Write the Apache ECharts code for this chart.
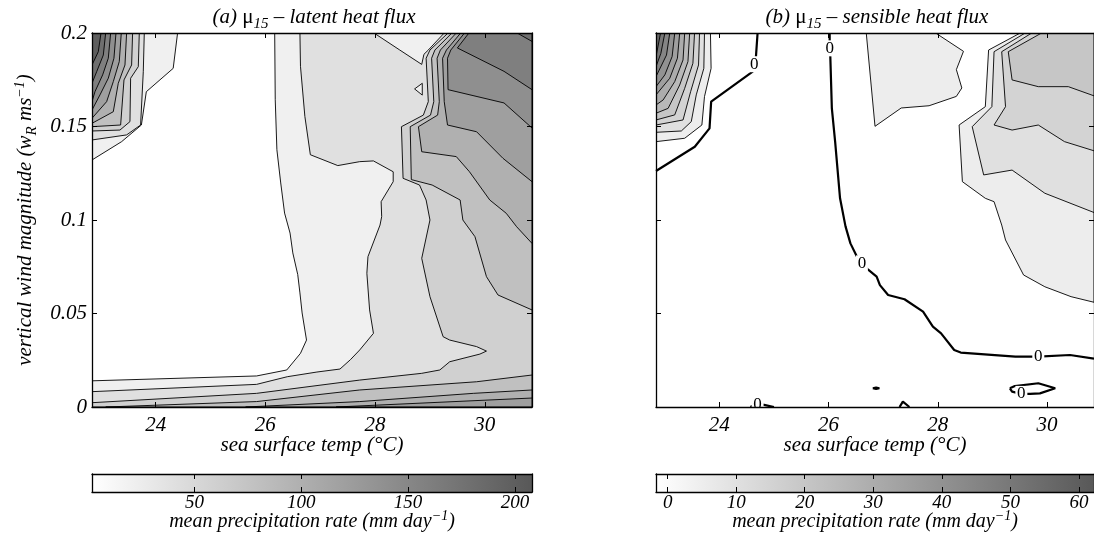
<!DOCTYPE html>
<html>
<head>
<meta charset="utf-8">
<script src="https://cdn.jsdelivr.net/npm/echarts@6/dist/echarts.min.js"></script>
<style>html,body{margin:0;padding:0;background:#fff}#main{width:1094px;height:554px}</style>
</head>
<body>
<div id="main"></div>
<script>
// axis ranges and ticks
const sstRange = [22.84, 30.86];
const windRange = [0, 0.2];
const sstTicks = [24, 26, 28, 30];
const latentBar = [2, 208];
const latentBarTicks = [50, 100, 150, 200];
const sensibleBar = [-1.7, 62.2];
const sensibleBarTicks = [0, 10, 20, 30, 40, 50, 60];

// (a) latent heat flux: contour regions as [sst, w] vertices
const aFull = [[22.84,0],[30.86,0],[30.86,0.2],[22.84,0.2]];
const aBelow20 = [[22.84,0.0140],[25.84,0.0166],[26.39,0.0198],[26.64,0.0287],[26.75,0.0358],[26.72,0.0412],[26.67,0.0503],[26.63,0.0610],[26.59,0.0708],[26.50,0.0824],[26.45,0.0930],[26.35,0.1037],[26.28,0.1198],[26.21,0.1376],[26.18,0.1643],[26.17,0.2],[24.40,0.2],[24.32,0.1811],[23.83,0.1686],[23.74,0.1508],[23.38,0.1419],[22.84,0.1321]];
const aAbove40 = [[22.84,0.0082],[25.84,0.0121],[26.40,0.0162],[26.94,0.0187],[27.36,0.0203],[27.55,0.0253],[27.72,0.0305],[27.97,0.0394],[27.90,0.0519],[27.85,0.0715],[27.87,0.0804],[28.09,0.0973],[28.12,0.1018],[28.11,0.1098],[28.33,0.1205],[28.33,0.1258],[27.97,0.1316],[27.72,0.1312],[27.32,0.1291],[26.82,0.1349],[26.72,0.1554],[26.64,0.1822],[26.63,0.2],[30.86,0.2],[30.86,0],[22.84,0]];
const aTongue = [[27.98,0.2],[28.45,0.1909],[28.85,0.1832],[28.89,0.1886],[28.97,0.1909],[29.26,0.2]];
const aPocket = [[28.72,0.1701],[28.86,0.1731],[28.86,0.1668]];
const aAbove60 = [[22.84,0.0023],[25.84,0.0073],[27.72,0.0144],[28.85,0.0180],[29.18,0.0198],[29.36,0.0242],[29.91,0.0283],[30.03,0.0299],[29.85,0.0323],[29.36,0.0358],[29.24,0.0376],[29.00,0.0590],[28.85,0.0795],[29.00,0.1000],[28.93,0.1107],[28.81,0.1187],[28.51,0.1223],[28.48,0.1499],[28.88,0.1561],[28.97,0.1633],[28.93,0.1865],[29.00,0.1909],[29.33,0.2],[30.86,0.2],[30.86,0],[22.84,0]];
const aAbove80Top = [[30.86,0.0519],[30.24,0.0599],[30.03,0.0697],[29.82,0.0911],[29.60,0.1000],[29.55,0.1107],[29.04,0.1187],[28.66,0.1216],[28.64,0.1499],[29.01,0.1561],[29.07,0.1633],[29.03,0.1865],[29.09,0.1909],[29.40,0.2],[30.86,0.2]];
const aAbove80Bottom = [[23.09,0],[25.84,0.0029],[27.72,0.0091],[29.85,0.0135],[30.86,0.0171],[30.86,0]];
const aAbove100Top = [[30.86,0.0875],[30.58,0.0964],[30.39,0.1036],[30.09,0.1107],[29.72,0.1258],[29.48,0.1339],[28.85,0.1365],[28.79,0.1499],[29.14,0.1561],[29.17,0.1633],[29.13,0.1865],[29.19,0.1909],[29.48,0.2],[30.86,0.2]];
const aAbove100Bottom = [[25.64,0],[27.72,0.0029],[29.79,0.0073],[30.86,0.0091],[30.86,0]];
const aAbove120Top = [[30.86,0.1205],[30.33,0.1330],[29.85,0.1472],[29.32,0.1508],[29.26,0.1633],[29.23,0.1865],[29.30,0.1909],[29.56,0.2],[30.86,0.2]];
const aAbove120Bottom = [[27.29,0],[30.86,0.0048],[30.86,0]];
const aAbove140 = [[30.86,0.1492],[30.35,0.1626],[29.33,0.1697],[29.32,0.1865],[29.38,0.1909],[29.63,0.2],[30.86,0.2]];
const aAbove160 = [[30.86,0.1697],[30.35,0.1795],[29.50,0.1920],[29.71,0.2],[30.86,0.2]];
const aAbove180 = [[30.59,0.2],[30.86,0.1955],[30.86,0.2]];
const aCorner40 = [[23.793,0.2],[23.775,0.1793],[23.726,0.1508],[23.471,0.1455],[22.84,0.1428],[22.84,0.2]];
const aCorner60 = [[23.702,0.2],[23.684,0.1820],[23.544,0.1758],[23.532,0.1526],[23.350,0.1481],[22.84,0.1476],[22.84,0.2]];
const aCorner80 = [[23.580,0.2],[23.562,0.1829],[23.423,0.1749],[23.362,0.1508],[22.84,0.1499],[22.84,0.2]];
const aCorner100 = [[23.471,0.2],[23.441,0.1829],[23.319,0.1731],[23.228,0.1579],[22.84,0.1517],[22.84,0.2]];
const aCorner120 = [[23.374,0.2],[23.337,0.1847],[23.228,0.1740],[23.107,0.1633],[22.84,0.1544],[22.84,0.2]];
const aCorner140 = [[23.277,0.2],[23.240,0.1865],[23.137,0.1758],[22.985,0.1669],[22.84,0.1588],[22.84,0.2]];
const aCorner160 = [[23.180,0.2],[23.137,0.1865],[23.034,0.1776],[22.894,0.1686],[22.84,0.1633],[22.84,0.2]];
const aCorner180 = [[23.089,0.2],[23.046,0.1882],[22.925,0.1793],[22.84,0.1731],[22.84,0.2]];
const aCorner200 = [[23.004,0.2],[22.955,0.1900],[22.84,0.1829],[22.84,0.2]];

// (b) sensible heat flux
const bCorner5 = [[23.837,0.2],[23.849,0.1811],[23.728,0.1660],[23.680,0.1508],[23.365,0.1437],[22.84,0.1419],[22.84,0.2]];
const bCorner10 = [[23.728,0.2],[23.716,0.1811],[23.577,0.1669],[23.486,0.1526],[23.304,0.1476],[22.84,0.1469],[22.84,0.2]];
const bCorner15 = [[23.637,0.2],[23.619,0.1829],[23.474,0.1686],[23.335,0.1535],[22.84,0.1508],[22.84,0.2]];
const bCorner20 = [[23.546,0.2],[23.516,0.1838],[23.365,0.1704],[23.183,0.1562],[22.84,0.1535],[22.84,0.2]];
const bCorner25 = [[23.456,0.2],[23.425,0.1847],[23.274,0.1722],[23.062,0.1597],[22.84,0.1571],[22.84,0.2]];
const bCorner30 = [[23.365,0.2],[23.335,0.1856],[23.183,0.1740],[22.971,0.1642],[22.84,0.1615],[22.84,0.2]];
const bCorner35 = [[23.274,0.2],[23.232,0.1865],[23.092,0.1758],[22.84,0.1669],[22.84,0.2]];
const bCorner40 = [[23.183,0.2],[23.135,0.1874],[23.002,0.1776],[22.84,0.1713],[22.84,0.2]];
const bCorner45 = [[23.092,0.2],[23.032,0.1882],[22.84,0.1767],[22.84,0.2]];
const bCorner50 = [[23.002,0.2],[22.929,0.1891],[22.84,0.1820],[22.84,0.2]];
const bCorner55 = [[22.923,0.2],[22.84,0.1873],[22.84,0.2]];
const bTongue5 = [[26.69,0.2],[26.85,0.1501],[27.33,0.1599],[27.84,0.1611],[28.34,0.1661],[28.44,0.1706],[28.34,0.1804],[28.47,0.1902],[27.96,0.2]];
const bRight5 = [[29.51,0.2],[28.93,0.1909],[28.87,0.1606],[28.39,0.1508],[28.45,0.1205],[28.87,0.1116],[29.03,0.1098],[29.17,0.0973],[29.24,0.0893],[29.57,0.0706],[29.96,0.0643],[30.44,0.0590],[30.86,0.0560],[30.86,0.2]];
const bRight10 = [[29.60,0.2],[29.03,0.1900],[28.99,0.1606],[28.63,0.1499],[28.84,0.1241],[29.36,0.1267],[29.96,0.1143],[30.86,0.1040],[30.86,0.2]];
const bRight15 = [[29.72,0.2],[29.17,0.1900],[29.24,0.1606],[29.03,0.1508],[29.36,0.1481],[29.84,0.1508],[30.32,0.1419],[30.86,0.1370],[30.86,0.2]];
const bRight20 = [[29.90,0.2],[29.29,0.1900],[29.36,0.1749],[29.84,0.1713],[30.39,0.1713],[30.86,0.1664],[30.86,0.2]];

// (b) zero contour (thick) and its labels
const bZeroWest = [[22.84,0.1262],[23.55,0.1392],[23.82,0.1490],[23.85,0.1633],[24.61,0.1793],[24.64,0.1833],[24.67,0.1874],[24.70,0.2]];
const bZeroEast = [[26.02,0.2],[26.02,0.1918],[26.03,0.1891],[26.06,0.1597],[26.12,0.1419],[26.21,0.1116],[26.31,0.0966],[26.40,0.0875],[26.52,0.0804],[26.61,0.0768],[26.73,0.0733],[26.88,0.0697],[26.94,0.0652],[27.09,0.0599],[27.39,0.0576],[27.73,0.0510],[27.91,0.0430],[28.06,0.0394],[28.30,0.0305],[28.42,0.0291],[29.42,0.0269],[29.84,0.0269],[30.42,0.0278],[30.86,0.0259]];
const bZeroLoop = [[29.32,0.0100],[29.41,0.0112],[29.84,0.0127],[30.15,0.0100],[29.87,0.0073],[29.69,0.0070],[29.53,0.0070],[29.36,0.0082],[29.32,0.0100]];
const bZeroDot = [[26.81,0.0100],[26.87,0.0104],[26.93,0.0100],[26.87,0.0096],[26.81,0.0100]];
const bZeroFootA = [[24.57,0],[24.67,0.0016],[24.82,0.0011],[25.00,0]];
const bZeroFootB = [[27.30,0],[27.36,0.0029],[27.48,0]];
const bZeroLabels = [[24.64,0.1833],[26.02,0.1918],[26.61,0.0768],[29.84,0.0269],[29.53,0.0070],[24.70,0.0012]];

// painting order: each later region covers the earlier ones
const latentLayers = [
  [20, aFull], [0, aBelow20], [40, aAbove40], [20, aTongue], [20, aPocket], [60, aAbove60],
  [80, aAbove80Top], [80, aAbove80Bottom], [100, aAbove100Top], [100, aAbove100Bottom],
  [120, aAbove120Top], [120, aAbove120Bottom], [140, aAbove140], [160, aAbove160], [180, aAbove180],
  [40, aCorner40], [60, aCorner60], [80, aCorner80], [100, aCorner100], [120, aCorner120],
  [140, aCorner140], [160, aCorner160], [180, aCorner180], [200, aCorner200]
];
const sensibleLayers = [
  [5, bTongue5], [5, bRight5], [10, bRight10], [15, bRight15], [20, bRight20],
  [5, bCorner5], [10, bCorner10], [15, bCorner15], [20, bCorner20], [25, bCorner25], [30, bCorner30],
  [35, bCorner35], [40, bCorner40], [45, bCorner45], [50, bCorner50], [55, bCorner55]
];

const SERIF = 'Liberation Serif';
const FS = 21;
const darkEnd = 88;
function gray(level, range) {
  const t = Math.max(0, Math.min(1, (level - range[0]) / (range[1] - range[0])));
  const g = Math.round(255 - t * (255 - darkEnd));
  return 'rgb(' + g + ',' + g + ',' + g + ')';
}
function richSet(size) {
  return {
    it: { fontFamily: SERIF, fontStyle: 'italic', fontWeight: 'normal', fontSize: size, color: '#000' },
    up: { fontFamily: SERIF, fontStyle: 'normal', fontWeight: 'normal', fontSize: size, color: '#000' },
    sub: { fontFamily: SERIF, fontStyle: 'italic', fontWeight: 'normal', fontSize: 15, color: '#000', padding: [14, 0, 0, 0] },
    sup: { fontFamily: SERIF, fontStyle: 'italic', fontWeight: 'normal', fontSize: 14, color: '#000', padding: [0, 0, 11, 0] }
  };
}
const rich = richSet(FS);
const labelFont = { fontFamily: SERIF, fontStyle: 'italic', fontWeight: 'normal', fontSize: FS, color: '#000' };
const barFont = { fontFamily: SERIF, fontStyle: 'italic', fontWeight: 'normal', fontSize: 19, color: '#000' };
const frame = { show: true, onZero: false, lineStyle: { color: '#000', width: 1.3 } };

const chartDom = document.getElementById('main');
const myChart = echarts.init(chartDom, null, { renderer: 'canvas' });

function xAxes(grid, range, ticks, labelMargin, font, name) {
  const bottom = {
    gridIndex: grid, type: 'value', position: 'bottom', min: range[0], max: range[1], z: 10,
    axisLine: frame, splitLine: { show: false },
    axisTick: { show: true, inside: true, length: 5, customValues: ticks, lineStyle: { color: '#000' } },
    axisLabel: Object.assign({ show: true, customValues: ticks, margin: labelMargin }, font)
  };
  if (name) Object.assign(bottom, name);
  const top = {
    gridIndex: grid, type: 'value', position: 'top', min: range[0], max: range[1], z: 10,
    axisLine: frame, splitLine: { show: false },
    axisTick: { show: true, inside: true, length: 5, customValues: ticks, lineStyle: { color: '#000' } },
    axisLabel: { show: false }
  };
  return [bottom, top];
}
function yAxes(grid, range, interval, withLabels, ticks, name) {
  const base = {
    gridIndex: grid, type: 'value', min: range[0], max: range[1], z: 10,
    axisLine: frame, splitLine: { show: false }
  };
  if (interval) base.interval = interval;
  const left = Object.assign({}, base, {
    position: 'left',
    axisTick: { show: ticks, inside: true, length: 5, lineStyle: { color: '#000' } },
    axisLabel: withLabels ? Object.assign({ show: true, margin: 5, formatter: v => String(parseFloat(v.toFixed(3))) }, labelFont) : { show: false }
  });
  if (name) Object.assign(left, name);
  const right = Object.assign({}, base, {
    position: 'right',
    axisTick: { show: ticks, inside: true, length: 5, lineStyle: { color: '#000' } },
    axisLabel: { show: false }
  });
  return [left, right];
}

function regionSeries(xi, yi, layers, range) {
  return {
    type: 'custom', xAxisIndex: xi, yAxisIndex: yi, clip: true, silent: true, z: 2,
    data: layers.map((l, i) => [l[1][0][0], l[1][0][1], i]),
    renderItem: (params, api) => {
      const layer = layers[params.dataIndex];
      return {
        type: 'polygon',
        shape: { points: layer[1].map(p => api.coord(p)) },
        style: { fill: gray(layer[0], range), stroke: '#000', lineWidth: 0.9 }
      };
    }
  };
}
function zeroLine(data) {
  return {
    type: 'line', xAxisIndex: 2, yAxisIndex: 2, data: data, showSymbol: false, clip: true,
    lineStyle: { color: '#000', width: 2.2 }, z: 4, silent: true
  };
}
function colorBar(xi, yi, range) {
  return {
    type: 'custom', xAxisIndex: xi, yAxisIndex: yi, silent: true, z: 2,
    data: [[range[0], range[1]]],
    renderItem: (params, api) => {
      const p0 = api.coord([api.value(0), 0]);
      const p1 = api.coord([api.value(1), 1]);
      return {
        type: 'rect',
        shape: { x: p0[0], y: p1[1], width: p1[0] - p0[0], height: p0[1] - p1[1] },
        style: { fill: new echarts.graphic.LinearGradient(0, 0, 1, 0, [
          { offset: 0, color: gray(range[0], range) }, { offset: 1, color: gray(range[1], range) }]) }
      };
    }
  };
}

const barName = {
  name: '{it|mean precipitation rate (mm day}{sup|\u22121}{it|)}',
  nameLocation: 'middle', nameGap: 17, nameMoveOverlap: false, nameTextStyle: { rich: richSet(20) }
};
const sstName = { name: 'sea surface temp (\u00b0C)', nameLocation: 'middle', nameGap: 28, nameMoveOverlap: false, nameTextStyle: labelFont };

const option = {
  animation: false,
  backgroundColor: '#fff',
  title: [
    { text: '{it|(a) }{up|\u03bc}{sub|15}{it| \u2013 latent heat flux}', left: 309, top: -2, textAlign: 'center', textStyle: { fontWeight: 'normal', rich: rich } },
    { text: '{it|(b) }{up|\u03bc}{sub|15}{it| \u2013 sensible heat flux}', left: 872, top: -2, textAlign: 'center', textStyle: { fontWeight: 'normal', rich: rich } }
  ],
  grid: [
    { left: 92, top: 33, width: 440, height: 374 },
    { left: 656, top: 33, width: 441, height: 374 },
    { left: 92, top: 474, width: 440, height: 18 },
    { left: 656, top: 474, width: 441, height: 18 }
  ],
  xAxis: [
    ...xAxes(0, sstRange, sstTicks, 8, labelFont, sstName),
    ...xAxes(1, sstRange, sstTicks, 8, labelFont, sstName),
    ...xAxes(2, latentBar, latentBarTicks, 1, barFont, barName),
    ...xAxes(3, sensibleBar, sensibleBarTicks, 1, barFont, barName)
  ],
  yAxis: [
    ...yAxes(0, windRange, 0.05, true, true, {
      name: '{it|vertical wind magnitude (w}{sub|R}{it| ms}{sup|\u22121}{it|)}',
      nameLocation: 'middle', nameRotate: 90, nameGap: 52, nameTextStyle: { rich: rich }
    }),
    ...yAxes(1, windRange, 0.05, false, true),
    ...yAxes(2, [0, 1], null, false, false),
    ...yAxes(3, [0, 1], null, false, false)
  ],
  series: [
    regionSeries(0, 0, latentLayers, latentBar),
    regionSeries(2, 2, sensibleLayers, sensibleBar),
    zeroLine(bZeroWest), zeroLine(bZeroEast), zeroLine(bZeroLoop), zeroLine(bZeroDot),
    zeroLine(bZeroFootA), zeroLine(bZeroFootB),
    {
      type: 'custom', xAxisIndex: 2, yAxisIndex: 2, data: bZeroLabels, z: 5, silent: true, clip: true,
      renderItem: (params, api) => {
        const p = api.coord([api.value(0), api.value(1)]);
        return {
          type: 'group',
          children: [
            { type: 'rect', shape: { x: p[0] - 6, y: p[1] - 8, width: 12, height: 16 }, style: { fill: '#fff' } },
            { type: 'text', x: p[0], y: p[1], style: { text: '0', fontFamily: SERIF, fontSize: 17, fill: '#000', align: 'center', verticalAlign: 'middle' } }
          ]
        };
      }
    },
    colorBar(4, 4, latentBar),
    colorBar(6, 6, sensibleBar)
  ]
};

option && myChart.setOption(option);
</script>
</body>
</html>
